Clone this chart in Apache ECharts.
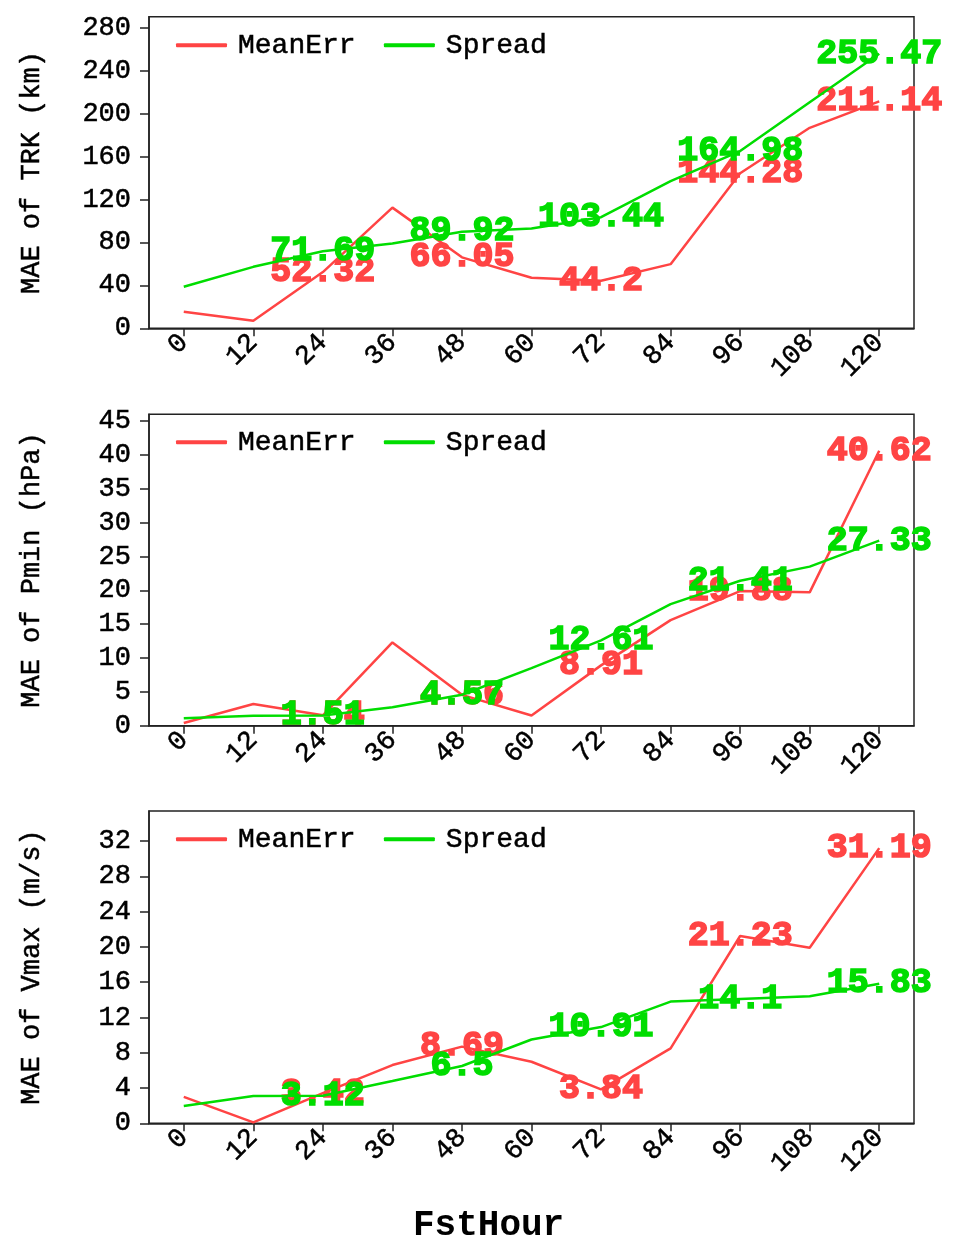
<!DOCTYPE html>
<html>
<head>
<meta charset="utf-8">
<script src="https://cdn.jsdelivr.net/npm/echarts@6/dist/echarts.min.js"></script>
<style>
html,body{margin:0;padding:0;background:#fff;}
#chart{width:956px;height:1258px;}
</style>
</head>
<body>
<div id="chart"></div>
<script>
// ---- data ----
const hours = ['0','12','24','36','48','60','72','84','96','108','120'];
const labeledHours = ['24','48','72','96','120'];

const trkMeanErr = [15.4, 7.1, 52.32, 112.3, 66.05, 47.0, 44.2, 59.7, 144.28, 186.6, 211.14];
const trkSpread  = [38.6, 57.2, 71.69, 78.9, 89.92, 92.8, 103.44, 137.0, 164.98, 210.4, 255.47];

const pminMeanErr = [0.4, 3.2, 1.54, 12.3, 4.56, 1.5, 8.91, 15.6, 19.88, 19.7, 40.62];
const pminSpread  = [1.1, 1.48, 1.51, 2.72, 4.57, 8.5, 12.61, 17.96, 21.41, 23.5, 27.33];

const vmaxMeanErr = [3.0, 0.1, 3.42, 6.6, 8.69, 6.98, 3.84, 8.5, 21.23, 19.9, 31.19];
const vmaxSpread  = [1.96, 3.1, 3.12, 4.8, 6.5, 9.5, 10.91, 13.8, 14.1, 14.4, 15.83];

const trkTicks  = [0,40,80,120,160,200,240,280];
const pminTicks = [0,5,10,15,20,25,30,35,40,45];
const vmaxTicks = [0,4,8,12,16,20,24,28,32];

const panelNames = ['MAE of TRK (km)', 'MAE of Pmin (hPa)', 'MAE of Vmax (m/s)'];
const seriesNames = ['MeanErr', 'Spread'];
const xTitle = 'FstHour';

// ---- styles ----
const RED = '#FF4444';
const GREEN = '#00DD00';
const MONO = '"Liberation Mono", "DejaVu Sans Mono", monospace';

const panels = [
  {name: panelNames[0], me: trkMeanErr, sp: trkSpread, ticks: trkTicks, max: 290, interval: 40, top: 16.7, height: 311.6, legendTop: 31},
  {name: panelNames[1], me: pminMeanErr, sp: pminSpread, ticks: pminTicks, max: 46, interval: 5, top: 414.3, height: 311.4, legendTop: 428},
  {name: panelNames[2], me: vmaxMeanErr, sp: vmaxSpread, ticks: vmaxTicks, max: 35.4, interval: 4, top: 811, height: 312.3, legendTop: 825}
];

function mkData(vals, color) {
  return vals.map((v, i) => {
    const show = labeledHours.indexOf(hours[i]) >= 0;
    return {
      value: v,
      label: {
        show: show,
        position: 'inside',
        color: color,
        fontFamily: MONO,
        fontWeight: 'bold',
        fontSize: 35,
        textBorderColor: color,
        textBorderWidth: 1.6,
        formatter: String(v)
      }
    };
  });
}

const tickText = {color: '#000', fontFamily: MONO, fontSize: 27, textBorderColor: '#000', textBorderWidth: 0.5};

const grid = [], xAxis = [], yAxis = [], series = [], legend = [];
panels.forEach((p, k) => {
  grid.push({left: 149, width: 765, top: p.top, height: p.height,
    show: true, borderColor: '#222', borderWidth: 1.5, backgroundColor: 'transparent'});
  xAxis.push({
    type: 'category', gridIndex: k, data: hours, boundaryGap: true,
    axisLine: {show: true, lineStyle: {color: '#222', width: 1.5}},
    axisTick: {show: true, alignWithLabel: true, length: 8, lineStyle: {color: '#222', width: 1.5}},
    axisLabel: Object.assign({rotate: 45, margin: 10, interval: 0}, tickText),
    splitLine: {show: false}
  });
  yAxis.push({
    type: 'value', gridIndex: k, min: 0, max: p.max, interval: p.interval,
    name: p.name, nameLocation: 'middle', nameGap: 104,
    nameTextStyle: Object.assign({}, tickText),
    axisLine: {show: true, lineStyle: {color: '#222', width: 1.5}},
    axisTick: {show: true, length: 9, customValues: p.ticks, lineStyle: {color: '#222', width: 1.5}},
    axisLabel: Object.assign({margin: 18, customValues: p.ticks}, tickText),
    splitLine: {show: false}
  });
  series.push({
    name: seriesNames[0], type: 'line', xAxisIndex: k, yAxisIndex: k,
    data: mkData(p.me, RED), symbol: 'circle', symbolSize: 0.01, showSymbol: true, showAllSymbol: true,
    clip: false, lineStyle: {color: RED, width: 2.5}, itemStyle: {color: RED}, z: 2,
    labelLayout: {hideOverlap: false}
  });
  series.push({
    name: seriesNames[1], type: 'line', xAxisIndex: k, yAxisIndex: k,
    data: mkData(p.sp, GREEN), symbol: 'circle', symbolSize: 0.01, showSymbol: true, showAllSymbol: true,
    clip: false, lineStyle: {color: GREEN, width: 2.5}, itemStyle: {color: GREEN}, z: 3,
    labelLayout: {hideOverlap: false}
  });
  legend.push({
    data: seriesNames.map(n => ({name: n, icon: 'roundRect'})), left: 176, top: p.legendTop, padding: 0,
    itemWidth: 51, itemHeight: 4, itemGap: 28, selectedMode: false,
    textStyle: {color: '#000', fontFamily: MONO, fontSize: 28, padding: [0, 0, 0, 6], textBorderColor: '#000', textBorderWidth: 0.5}
  });
});

const chart = echarts.init(document.getElementById('chart'), null, {renderer: 'canvas'});
chart.setOption({
  backgroundColor: '#fff',
  animation: false,
  grid, xAxis, yAxis, series, legend,
  graphic: [{
    type: 'text', left: 489 - 76, top: 1208,
    style: {text: xTitle, fill: '#000', font: 'bold 36px ' + MONO}
  }]
});
</script>
</body>
</html>
